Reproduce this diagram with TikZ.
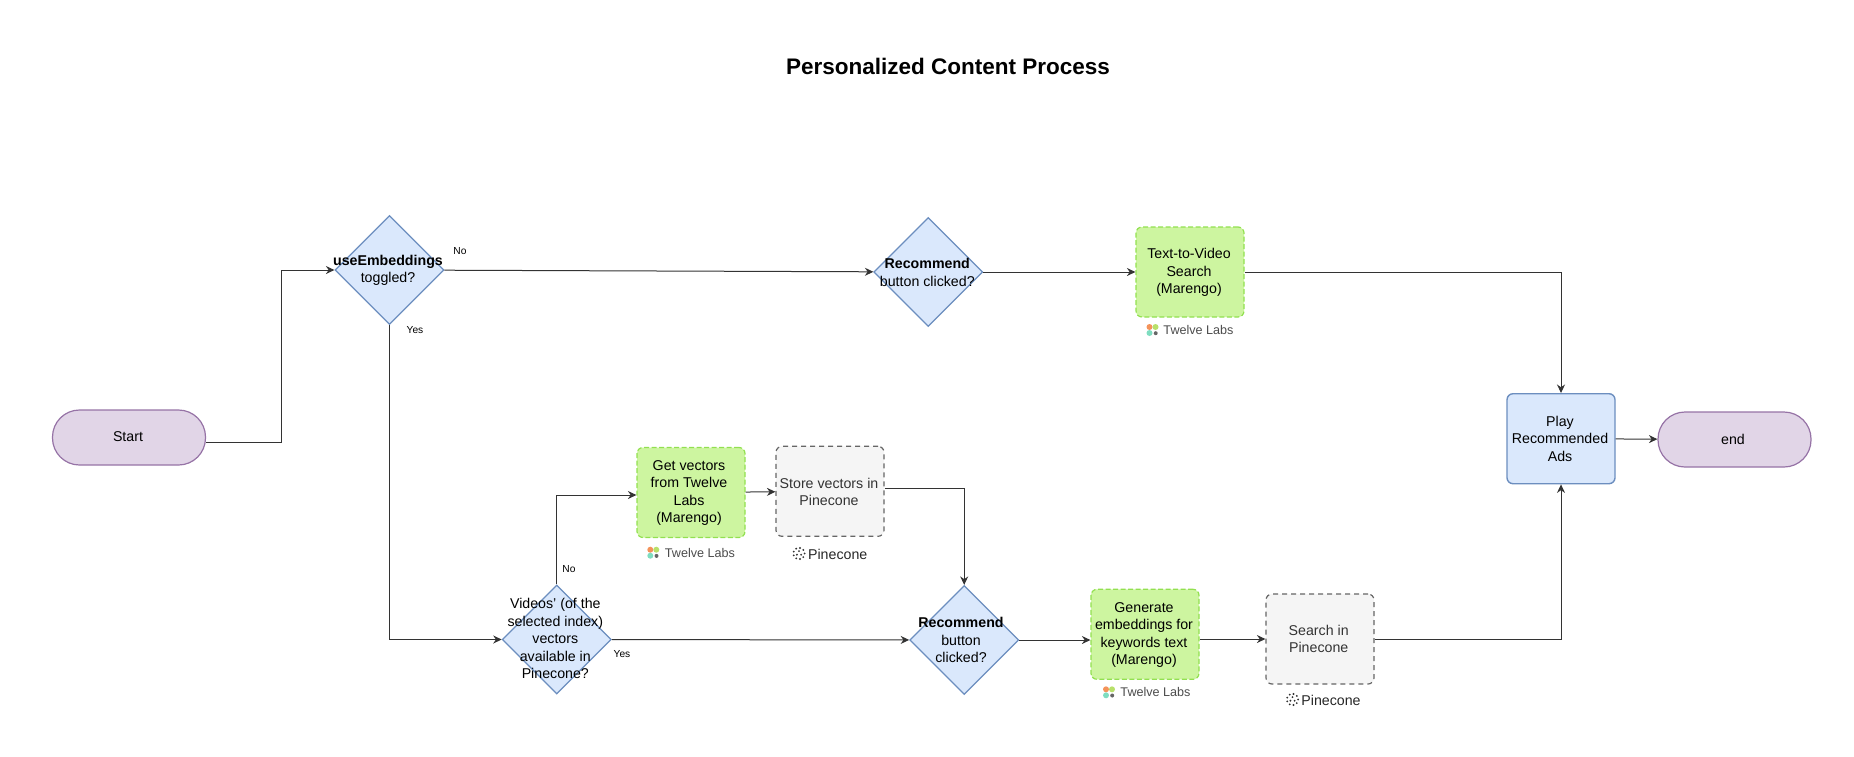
\documentclass[tikz,border=0pt]{standalone}
\usepackage{fontspec}
\setmainfont{Liberation Sans}
\usetikzlibrary{shapes.geometric,arrows.meta}

\definecolor{blueFill}{HTML}{DAE8FC}
\definecolor{blueLine}{HTML}{6C8EBF}
\definecolor{purpleFill}{HTML}{E1D5E7}
\definecolor{purpleLine}{HTML}{9673A6}
\definecolor{greenFill}{HTML}{CDF5A0}
\definecolor{greenLine}{HTML}{92E050}
\definecolor{grayFill}{HTML}{F5F5F5}
\definecolor{grayLine}{HTML}{666666}
\definecolor{tlOrange}{HTML}{F4935A}
\definecolor{tlGreen}{HTML}{B8E06A}
\definecolor{tlTeal}{HTML}{7FDDC0}

\begin{document}
\begin{tikzpicture}
  [x=1pt,y=-1pt,
   every node/.style={inner sep=0pt,align=center,font=\fontsize{14.2}{17.5}\selectfont},
   flow/.style={-{Stealth[length=8.5pt,width=8pt]},line width=1pt,black!80},
   terminal/.style={draw=purpleLine,fill=purpleFill,line width=1.2pt,minimum width=153pt,minimum height=55pt,rounded corners=27pt},
   decision/.style={diamond,aspect=1,draw=blueLine,fill=blueFill,line width=1.2pt,minimum width=109pt,minimum height=109pt},
   marengo/.style={draw=greenLine,fill=greenFill,line width=1.2pt,dash pattern=on 5pt off 2.5pt,rounded corners=6pt,minimum width=108pt,minimum height=90pt},
   store/.style={draw=grayLine,fill=grayFill,line width=1.2pt,dash pattern=on 5pt off 4pt,rounded corners=6pt,minimum width=108pt,minimum height=90pt},
   play/.style={draw=blueLine,fill=blueFill,line width=1.4pt,rounded corners=6pt,minimum width=108pt,minimum height=90pt},
   branch/.style={font=\fontsize{10.2}{12}\selectfont},
   tllabel/.style={font=\fontsize{12.6}{15}\selectfont,text=black!70},
   pclabel/.style={font=\fontsize{14.2}{16}\selectfont,text=black!85},
   tllogo/.pic={
     \fill[tlOrange] (-3,-3) circle (3);
     \fill[tlGreen] (3,-3) circle (3);
     \fill[tlTeal] (-3,3) circle (3);
     \fill[black!60] (3.2,3.2) circle (2);},
   pclogo/.pic={
     \foreach \a in {0,40,...,320}
       \fill[black!80] (\a:5.6) circle (1.05);
     \foreach \a in {30,150,270}
       \fill[black!80] (\a:2.4) circle (1.05);}]
  \useasboundingbox (0,0) rectangle (1854,756);

  \node[font=\bfseries\fontsize{22.5}{26}\selectfont] (title) at (948,66.5) {Personalized Content Process};

  \node[terminal] (start) at (129,437.5) {};
  \node (starttext) at (128,437) {Start};
  \node[terminal] (end) at (1734.5,439.5) {};
  \node (endtext) at (1733,439) {end};

  \node[decision] (toggle) at (389.5,270) {};
  \node (toggletext) at (388,270.5) {\textbf{useEmbeddings}\\toggled?};
  \node[decision] (rec1) at (928.3,272) {};
  \node (rec1text) at (927.3,272.5) {\textbf{Recommend}\\button clicked?};
  \node[decision] (avail) at (556.8,639.5) {};
  \node (availtext) at (555.3,638.5) {Videos' (of the\\selected index)\\vectors\\available in\\Pinecone?};
  \node[decision] (rec2) at (964.2,640) {};
  \node (rec2text) at (961,640) {\textbf{Recommend}\\button\\clicked?};

  \node[marengo] (ttv) at (1190,272) {};
  \node (ttvtext) at (1189,272.5) {Text-to-Video\\Search\\(Marengo)};
  \node[marengo] (getvec) at (691,492.5) {};
  \node (getvectext) at (689,493) {Get vectors\\from Twelve\\Labs\\(Marengo)};
  \node[marengo] (genemb) at (1145,634.3) {};
  \node (genembtext) at (1144,635) {Generate\\embeddings for\\keywords text\\(Marengo)};

  \node[store] (storevec) at (830,491.3) {};
  \node[text=black!80] (storevectext) at (829,492) {Store vectors in\\Pinecone};
  \node[store] (search) at (1320,639) {};
  \node[text=black!80] (searchtext) at (1318.7,639) {Search in\\Pinecone};

  \node[play] (playads) at (1561,438.7) {};
  \node (playtext) at (1560,438.5) {Play\\Recommended\\Ads};

  % logos under the boxes
  \node[tllabel] (tl1) at (1198.5,330) {Twelve Labs};
  \node[tllabel] (tl2) at (700,553) {Twelve Labs};
  \node[tllabel] (tl3) at (1155.5,692) {Twelve Labs};
  \node[pclabel] (pc1) at (837.7,554) {Pinecone};
  \node[pclabel] (pc2) at (1331,700) {Pinecone};
  \pic at (1152.5,330) {tllogo};
  \pic at (653.3,552.7) {tllogo};
  \pic at (1109,692.3) {tllogo};
  \pic at (799,553.5) {pclogo};
  \pic at (1292.5,699.5) {pclogo};

  \node[branch] (no1) at (460,251.5) {No};
  \node[branch] (yes1) at (415,330.5) {Yes};
  \node[branch] (no2) at (569,569.5) {No};
  \node[branch] (yes2) at (622,654.5) {Yes};

  \coordinate (startbend) at (281,270);
  \draw[flow] ([yshift=-4.8pt]start.east) -| (startbend) -- (toggle.west);
  \draw[flow] (toggle.south) |- (avail.west);
  \draw[flow] (avail.north) |- ([yshift=-2.5pt]getvec.west);
  \draw[flow] ([yshift=3pt]storevec.east) -| (rec2.north);
  \draw[flow] (rec2.east) -- (rec2.east -| genemb.west);
  \draw[flow] (genemb.east |- search.west) -- (search.west);
  \draw[flow] (search.east) -| (playads.south);
  \draw[flow] (ttv.east) -| (playads.north);

  \foreach \from/\to in {toggle/rec1,rec1/ttv,getvec/storevec,avail/rec2,playads/end}
    \draw[flow] (\from) -- (\to);

\end{tikzpicture}
\end{document}
